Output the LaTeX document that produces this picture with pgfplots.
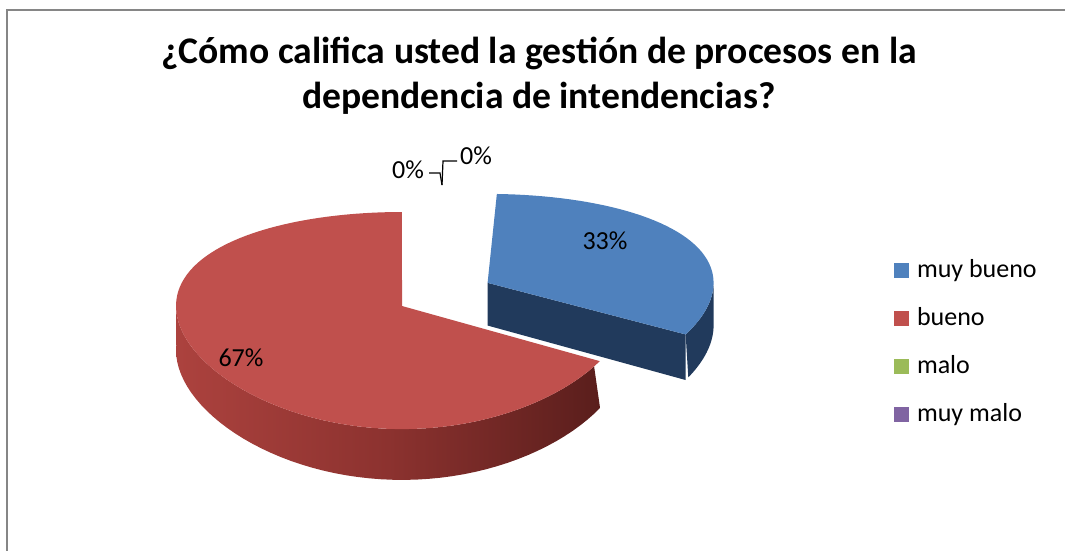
\documentclass[border=0pt]{standalone}
\usepackage{fontspec}
\setmainfont{Carlito}
\usepackage{pgfplots}
\usepackage{pgfplotstable}
\pgfplotsset{compat=1.18}

\definecolor{blueTop}{RGB}{79,129,189}
\definecolor{blueSide}{RGB}{33,58,92}
\definecolor{redTop}{RGB}{192,80,77}
\definecolor{redSideL}{RGB}{172,66,62}
\definecolor{redSideM}{RGB}{140,50,47}
\definecolor{redSideR}{RGB}{90,30,28}
\definecolor{greenL}{RGB}{155,187,89}
\definecolor{purpleL}{RGB}{128,100,162}
\definecolor{frameGray}{RGB}{134,134,134}

\pgfplotstableread{
label value
{muy bueno} 33
bueno 67
malo 0
{muy malo} 0
}\piedata

\begin{document}
\begin{tikzpicture}
\pgfplotstablegetelem{0}{value}\of\piedata \edef\vA{\pgfplotsretval}
\pgfplotstablegetelem{1}{value}\of\piedata \edef\vB{\pgfplotsretval}
\pgfplotstablegetelem{2}{value}\of\piedata \edef\vC{\pgfplotsretval}
\pgfplotstablegetelem{3}{value}\of\piedata \edef\vD{\pgfplotsretval}
\pgfmathsetmacro\tot{\vA+\vB+\vC+\vD}
\pgfmathsetmacro\tS{90-\vA/\tot*360}
\pgfmathsetmacro\tR{\tS-\vB/\tot*360}
\pgfmathsetmacro\mA{(90+\tS)/2}
\pgfmathsetmacro\uB{0.44*cos(\mA)}
\pgfmathsetmacro\vBl{0.44*sin(\mA)}
\def\pCX{402}\def\pCY{306}\def\pA{226}\def\pB{106.6}\def\pP{0.134}\def\pD{44}
\path[use as bounding box] (0,0) rectangle (532.5pt,275.5pt);
\begin{axis}[
  at={(0,0)}, anchor=south west,
  scale only axis, width=532.5pt, height=275.5pt,
  xmin=0, xmax=1065, ymin=0, ymax=551, y dir=reverse,
  axis lines=none, clip=false,
  declare function={
    PX(\r,\t,\u)=\pCX+\pA*(\u+\r*cos(\t));
    PY(\r,\t,\v,\h)=\pCY-(\pB*(\v+\r*sin(\t))-\h)/(1+\pP*(\v+\r*sin(\t)));
    AN(\s,\lo,\hi)=(\s<1.5)?(\lo+(\hi-\lo)*\s):(\hi-(\hi-\lo)*(\s-2));
    HH(\s)=(\s<1.5)?0:\pD;
    RC(\s)=(abs(\s-1.5)<1)?1:0;
    HC(\s)=(\s>1.5)?\pD:0;
    RT(\s)=(\s<-0.5)?0:1;
  },
  legend image code/.code={\fill[#1, draw=none] (0pt,-0.5pt) rectangle (7.5pt,7pt);},
  legend style={at={(axis cs:894,259)}, anchor=north west, draw=none, fill=none,
    inner sep=0pt, outer sep=0pt, row sep=12pt,
    cells={anchor=base west},
    nodes={inner sep=0pt, text height=9pt, text depth=3pt, font=\fontsize{13}{15}\selectfont},
    /tikz/every odd column/.style={column sep=4pt}},
]
% frame
\draw[frameGray, line width=1pt] (axis cs:7,551) -- (axis cs:7,10) -- (axis cs:1065,10);

% muy bueno (exploded): curved side
\addplot[forget plot, draw=none, fill=blueSide, variable=\s, samples at={0,0.05,...,1,2,2.05,...,3}]
  ({PX(1,AN(\s,\tS,0),\uB)}, {PY(1,AN(\s,\tS,0),\vBl,HH(\s))});
% cut face
\addplot[forget plot, draw=none, fill=blueSide, variable=\s, samples at={0,1,2,3}]
  ({PX(RC(\s),\tS,\uB)}, {PY(RC(\s),\tS,\vBl,HC(\s))});
% top face
\addplot[forget plot, draw=none, fill=blueTop, variable=\s, samples at={-1,0,0.02,...,1}]
  ({PX(RT(\s),\tS+(90-\tS)*max(\s,0),\uB)}, {PY(RT(\s),\tS+(90-\tS)*max(\s,0),\vBl,0)});

% bueno: curved side
\addplot[forget plot, draw=none, left color=redSideL, right color=redSideR, middle color=redSideM,
  variable=\s, samples at={0,0.02,...,1,2,2.02,...,3}]
  ({PX(1,AN(\s,-180,\tS),0)}, {PY(1,AN(\s,-180,\tS),0,HH(\s))});
% top face
\addplot[forget plot, draw=none, fill=redTop, variable=\s, samples at={-1,0,0.01,...,1}]
  ({PX(RT(\s),\tR+(\tS-\tR)*max(\s,0),0)}, {PY(RT(\s),\tR+(\tS-\tR)*max(\s,0),0,0)});

% data labels
\node[font=\fontsize{13}{15}\selectfont] at (axis cs:605,241) {33\%};
\node[font=\fontsize{13}{15}\selectfont] at (axis cs:241,358) {67\%};
\node[font=\fontsize{13}{15}\selectfont] at (axis cs:408,170) {0\%};
\node[font=\fontsize{13}{15}\selectfont] at (axis cs:476,156) {0\%};
\draw[line width=0.6pt] (axis cs:429,173) -- (axis cs:440,173) -- (axis cs:442,185);
\draw[line width=0.6pt] (axis cs:457,161) -- (axis cs:443,161) -- (axis cs:442,185);

% title
\node[anchor=base, font=\fontsize{18.8}{22}\selectfont\bfseries] at (axis cs:539,64) {¿Cómo califica usted la gestión de procesos en la};
\node[anchor=base, font=\fontsize{18.8}{22}\selectfont\bfseries] at (axis cs:539,109) {dependencia de intendencias?};

% legend
\addlegendimage{fill=blueTop}\addlegendentry{muy bueno}
\addlegendimage{fill=redTop}\addlegendentry{bueno}
\addlegendimage{fill=greenL}\addlegendentry{malo}
\addlegendimage{fill=purpleL}\addlegendentry{muy malo}
\end{axis}
\end{tikzpicture}
\end{document}
